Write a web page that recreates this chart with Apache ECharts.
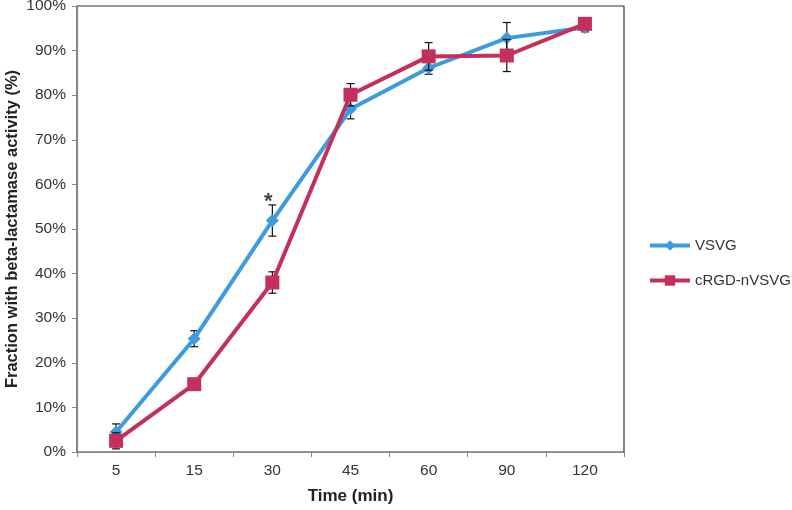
<!DOCTYPE html>
<html><head><meta charset="utf-8">
<script src="https://cdn.jsdelivr.net/npm/echarts@6/dist/echarts.min.js"></script>
<style>html,body{margin:0;padding:0;background:#fff}#c{width:792px;height:510px}</style>
</head><body><div id="c"></div>
<script>
const categories = ['5','15','30','45','60','90','120'];
const vsvg = [4.5, 25.4, 51.9, 76.9, 86.1, 92.8, 95.2];
const vsvgErr = [1.8, 1.8, 3.5, 2.2, 1.4, 3.5, 1.0];
const crgd = [2.5, 15.2, 38.0, 80.1, 88.7, 88.9, 96.0];
const crgdErr = [1.8, 0.8, 2.4, 2.5, 3.1, 3.6, 0.8];
const yTicks = [0,10,20,30,40,50,60,70,80,90,100];
const annotCat = ['30'];
const annotVal = [55.3];
const annotText = ['*'];

const FONT = 'Liberation Sans';
const blue = '#3D9BDF', red = '#C3305C';

function errData(vals, errs){ return vals.map((v,i)=>[i, v-errs[i], v+errs[i]]); }
function errRender(params, api){
  const x = api.value(0);
  const lo = api.coord([x, api.value(1)]);
  const hi = api.coord([x, api.value(2)]);
  const w = 4;
  const st = {stroke:'#111', lineWidth:1.2};
  return {type:'group', children:[
    {type:'line', shape:{x1:lo[0],y1:lo[1],x2:hi[0],y2:hi[1]}, style:st},
    {type:'line', shape:{x1:lo[0]-w,y1:lo[1],x2:lo[0]+w,y2:lo[1]}, style:st},
    {type:'line', shape:{x1:hi[0]-w,y1:hi[1],x2:hi[0]+w,y2:hi[1]}, style:st}
  ]};
}

const chart = echarts.init(document.getElementById('c'));
chart.setOption({
  animation:false,
  textStyle:{fontFamily:FONT},
  grid:{left:77, right:168, top:6, bottom:58, outerBoundsMode:'none', containLabel:false,
    show:true, borderColor:'#333', borderWidth:1.2, backgroundColor:'#fff'},
  legend:{
    orient:'vertical', left:643, top:233, itemWidth:40, itemHeight:13, itemGap:20,
    data:['VSVG','cRGD-nVSVG'],
    lineStyle:{width:4},
    textStyle:{fontFamily:FONT, fontSize:15, color:'#333'}
  },
  xAxis:{
    type:'category', data:categories, boundaryGap:true,
    name:'Time (min)', nameLocation:'middle', nameGap:36, nameMoveOverlap:false,
    nameTextStyle:{fontFamily:FONT, fontSize:17, fontWeight:'bold', color:'#222'},
    axisLine:{lineStyle:{color:'#888', width:1.2}},
    axisTick:{show:true, length:5, alignWithLabel:false, lineStyle:{color:'#888'}},
    axisLabel:{fontFamily:FONT, fontSize:15.5, color:'#333', margin:11}
  },
  yAxis:{
    type:'value', min:0, max:100, interval:10,
    name:'Fraction with beta-lactamase activity (%)', nameLocation:'middle', nameGap:56, nameMoveOverlap:false,
    nameTextStyle:{fontFamily:FONT, fontSize:16.5, fontWeight:'bold', color:'#222'},
    axisLine:{show:true, lineStyle:{color:'#888', width:1.2}},
    axisTick:{show:true, length:5, lineStyle:{color:'#888'}},
    splitLine:{show:false},
    axisLabel:{fontFamily:FONT, fontSize:15.5, color:'#333', margin:11,
      formatter:v=> yTicks.includes(v) ? v+'%' : ''}
  },
  series:[
    {type:'custom', name:'errV', renderItem:errRender, data:errData(vsvg, vsvgErr), z:1, silent:true},
    {type:'line', name:'VSVG', data:vsvg, z:2, color:blue,
      lineStyle:{width:4, color:blue}, symbol:'diamond', symbolSize:13,
      itemStyle:{color:blue, borderWidth:0}},
    {type:'custom', name:'errC', renderItem:errRender, data:errData(crgd, crgdErr), z:3, silent:true},
    {type:'line', name:'cRGD-nVSVG', data:crgd, z:4, color:red,
      lineStyle:{width:4, color:red}, symbol:'rect', symbolSize:14,
      itemStyle:{color:red, borderWidth:0}},
    {type:'scatter', name:'annot', symbol:'circle', symbolSize:1, z:5, silent:true,
      itemStyle:{color:'rgba(0,0,0,0)'},
      data:annotCat.map((c,i)=>[c, annotVal[i]]),
      label:{show:true, position:'top', distance:-8, offset:[-4,0],
        formatter:p=>annotText[p.dataIndex], fontFamily:FONT, fontSize:22, fontWeight:'bold', color:'#111'}}
  ]
});
</script>
</body></html>
